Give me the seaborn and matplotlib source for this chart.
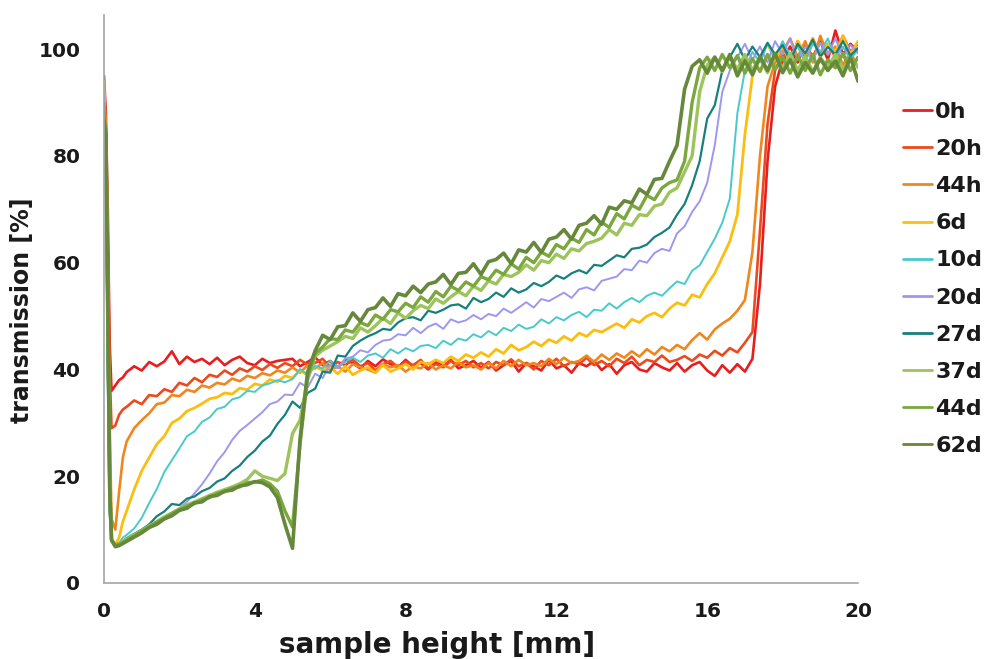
import numpy as np
import pandas as pd
import matplotlib
matplotlib.use("Agg")
import matplotlib.pyplot as plt
from matplotlib.lines import Line2D
import seaborn as sns

# ---------------- data ----------------
X_HEAD = [0.0, 0.05, 0.1, 0.15, 0.2, 0.3, 0.4, 0.5]
X_BODY = list(np.round(np.arange(0.6, 20.001, 0.2), 2))   # 0.6 ... 20.0
X = X_HEAD + X_BODY

LABELS = ["0h", "20h", "44h", "6d", "10d", "20d", "27d", "37d", "44d", "62d"]

T_0H = [95, 88, 70, 45, 36, 37, 38, 38.5,
        39.5, 40.6, 39.8, 41.4, 40.6, 41.5, 43.4, 41.0, 42.4, 41.4, 42.0, 41.0, 42.2, 40.8, 41.8, 42.4, 41.2, 40.8, 42.0, 41.2, 41.6, 41.8,
        42.0, 40.6, 41.4, 42.3, 40.8, 41.6, 40.4, 41.8, 41.2, 40.2, 41.6, 40.6, 41.9, 41.0, 40.4, 41.8, 40.6, 41.2, 40.0, 41.4, 40.9, 41.8, 40.2, 40.8, 41.6, 40.3,
        41.4, 39.8, 40.8, 41.6, 39.6, 41.2, 40.6, 39.8, 41.8, 40.2, 40.8, 39.4, 41.2, 40.6, 41.6, 39.9, 41.0, 39.2, 40.8, 41.4, 40.0, 39.6, 41.2, 40.4, 39.8,
        41.2, 39.6, 40.8, 41.4, 39.8, 38.8, 40.8, 39.4, 41.0, 39.6, 42.0, 56, 79, 93, 98, 100.5, 97.5, 101, 98.5, 101.5, 98, 103.5, 99, 101, 99.5]

T_20H = [93, 85, 65, 40, 29, 29.5, 31.5, 32.5,
         33.0, 34.2, 33.5, 35.2, 35.0, 36.3, 35.8, 37.5, 37.0, 38.4, 37.6, 39.0, 38.6, 39.8, 39.0, 40.2, 39.6, 40.6, 39.9, 41.0, 40.3, 41.2,
         40.6, 41.8, 40.9, 41.2, 42.0, 40.4, 41.4, 40.8, 41.8, 40.6, 41.2, 39.8, 41.0, 41.6, 40.4, 41.4, 40.8, 41.8, 40.2, 41.0, 40.4, 41.6, 40.8, 41.6, 40.4, 41.2,
         40.2, 41.4, 40.8, 41.9, 40.6, 41.2, 40.0, 41.6, 40.8, 42.0, 40.6, 41.4, 41.0, 42.2, 40.8, 41.6, 40.6, 42.0, 41.2, 42.4, 40.8, 41.8, 41.4, 42.6, 41.4,
         41.8, 42.5, 41.6, 42.8, 42.2, 43.5, 42.6, 44.0, 43.2, 45.0, 47.0, 66, 86, 96, 99, 97.5, 101.5, 98.5, 102, 99, 101, 98.5, 102.5, 99.5, 101]

T_44H = [92, 84, 60, 30, 12, 10, 17, 23.5,
         26.5, 29.0, 30.5, 31.8, 33.5, 33.8, 35.2, 35.0, 36.2, 35.8, 37.0, 36.6, 37.5, 37.2, 38.3, 37.8, 38.8, 38.4, 39.3, 38.9, 39.8, 39.4,
         40.4, 39.4, 40.8, 40.2, 41.2, 39.8, 40.6, 39.6, 41.0, 40.4, 40.0, 39.4, 41.0, 40.4, 40.8, 39.6, 40.6, 40.2, 41.2, 40.0, 40.8, 40.2, 41.4, 40.4, 40.8, 40.0,
         41.2, 40.2, 41.6, 40.6, 41.8, 40.8, 41.2, 40.6, 42.0, 41.0, 42.2, 41.2, 41.6, 42.6, 41.4, 42.8, 41.8, 43.0, 42.2, 43.4, 42.4, 43.8, 42.8, 44.2, 43.4,
         44.6, 43.8, 45.5, 46.8, 45.6, 47.5, 48.6, 49.5, 51.0, 53.0, 62, 80, 93, 97.5, 99.5, 102, 98.5, 101.5, 97.5, 102.5, 99, 100.5, 97, 99.5, 96.5]

T_6D = [94, 80, 45, 15, 8, 7.2, 8.5, 11.5,
        13.5, 17.5, 21.0, 23.5, 26.0, 27.5, 30.0, 30.8, 32.2, 32.8, 33.6, 34.5, 34.8, 35.6, 35.4, 36.5, 36.2, 37.3, 37.0, 38.1, 37.7, 38.8,
        38.4, 39.8, 39.0, 40.6, 39.8, 40.4, 39.2, 40.6, 39.0, 39.8, 40.4, 39.4, 40.8, 39.6, 40.2, 41.0, 40.0, 41.4, 41.0, 41.8, 41.2, 42.4, 41.6, 42.8, 42.2, 43.2,
        42.4, 43.8, 43.0, 44.6, 43.6, 44.2, 45.2, 44.4, 45.6, 45.0, 46.2, 45.4, 46.8, 46.2, 47.4, 47.0, 47.8, 48.6, 47.8, 49.4, 48.8, 50.0, 50.6, 49.8, 51.4,
        52.5, 52.0, 54.0, 53.5, 56.0, 58.0, 61.0, 64.0, 69.0, 84, 95, 98.5, 101, 98, 100.5, 97.5, 101.5, 99, 102, 98.5, 101, 99.5, 102.5, 99, 101.5]

T_10D = [92, 75, 40, 14, 8, 7.2, 7.5, 8.5,
         9.0, 10.2, 12.2, 15.0, 17.6, 20.8, 23.0, 25.2, 27.5, 28.4, 30.2, 31.0, 32.6, 33.0, 34.4, 34.8, 36.0, 35.8, 37.0, 37.4, 38.0, 37.6,
         38.2, 40.1, 39.0, 40.6, 40.2, 41.6, 40.6, 41.4, 42.2, 41.4, 42.6, 43.0, 42.2, 43.8, 43.0, 44.0, 43.4, 44.4, 44.6, 44.0, 45.4, 44.6, 45.8, 45.4, 46.6, 46.0,
         47.2, 46.4, 47.8, 47.2, 48.4, 47.6, 48.0, 49.4, 48.6, 49.8, 49.2, 50.2, 50.8, 49.8, 51.2, 51.0, 52.4, 51.4, 52.6, 53.4, 52.6, 53.8, 54.4, 53.8, 55.2,
         56.5, 56.0, 58.5, 59.5, 62.0, 64.5, 67.5, 72, 88, 96, 99.5, 97.5, 101, 98.5, 101.5, 99, 100.5, 97.5, 101, 99.5, 102, 98.5, 100.5, 98, 100]

T_20D = [92, 75, 40, 14, 8, 7.2, 7.4, 7.8,
         8.2, 9.0, 9.8, 10.6, 11.5, 12.3, 13.2, 14.0, 15.2, 16.8, 18.5, 20.5, 22.8, 24.5, 26.8, 28.5, 29.6, 30.8, 32.0, 33.5, 34.0, 35.3,
         35.2, 37.5, 36.6, 39.2, 38.4, 41.0, 40.2, 42.0, 42.4, 43.6, 43.2, 44.6, 45.4, 45.6, 46.6, 46.4, 47.8, 46.8, 48.0, 48.6, 47.6, 49.4, 48.8, 49.2, 50.2, 49.4,
         50.4, 50.0, 51.4, 50.6, 51.6, 52.6, 51.6, 53.2, 52.8, 53.6, 54.4, 53.4, 55.0, 55.4, 54.8, 56.6, 57.0, 57.4, 58.8, 58.6, 60.4, 60.0, 61.8, 62.6, 62.2,
         65.5, 66.8, 69.5, 71.5, 75.0, 82, 92, 96, 98.5, 101, 98, 100.5, 97.5, 101.5, 99, 102, 98, 100.5, 97.8, 101.2, 99, 102, 98.5, 100.8, 99.2]

T_27D = [90, 72, 38, 13, 8, 7.2, 7.4, 7.8,
         8.4, 9.2, 10.0, 11.0, 12.5, 13.4, 14.8, 14.6, 15.8, 16.2, 17.2, 17.8, 19.0, 19.6, 21.0, 22.0, 23.6, 24.8, 26.5, 27.6, 29.8, 31.5,
         34.0, 32.8, 35.6, 36.4, 39.6, 39.4, 42.6, 42.4, 44.4, 45.4, 46.2, 46.8, 47.6, 47.4, 48.8, 49.6, 49.8, 49.2, 51.0, 50.6, 51.2, 52.0, 52.2, 51.4, 53.4, 52.6,
         53.2, 54.4, 53.6, 55.2, 54.4, 55.0, 56.2, 55.6, 56.4, 57.6, 57.0, 58.0, 58.6, 58.0, 59.6, 59.4, 60.4, 61.4, 61.0, 62.6, 62.8, 63.4, 64.8, 65.6, 66.6,
         69.0, 71.0, 74.5, 79, 87, 89.5, 96, 98.5, 101, 98, 100.5, 98.5, 101.2, 99, 100.8, 97.8, 101, 99.2, 101.8, 98.6, 100.4, 99, 101.5, 98.8, 100.2]

T_37D = [86, 83, 54, 18, 8.0, 7.0, 7.3, 7.8,
         8.2, 9.0, 9.8, 10.7, 11.5, 12.4, 13.1, 13.9, 14.6, 15.2, 15.8, 16.4, 17.0, 17.5, 18.0, 18.6, 19.4, 21.0, 20.0, 19.6, 19.2, 20.5,
         28.0, 30.5, 38.0, 42.5, 43.6, 44.4, 45.2, 46.2, 45.8, 47.8, 47.0, 48.2, 49.6, 48.6, 50.6, 49.6, 51.0, 52.0, 51.4, 53.2, 52.4, 53.6, 54.6, 53.8, 55.6, 54.8,
         56.6, 56.0, 57.8, 57.4, 58.2, 59.6, 58.6, 60.4, 60.0, 61.6, 60.8, 62.6, 62.2, 63.6, 64.0, 64.6, 66.2, 65.2, 67.4, 67.0, 69.0, 68.8, 70.6, 71.0, 73.2,
         74.0, 77.0, 80.0, 92.0, 97.0, 98.5, 95.8, 98.6, 96.2, 99.0, 96.0, 98.4, 95.6, 98.8, 96.4, 99.2, 96.0, 98.6, 95.8, 98.4, 96.6, 99.0, 96.2, 98.0, 96.8]

T_44D = [87, 84, 56, 19, 8.2, 7.0, 7.2, 7.6,
         8.0, 8.8, 9.7, 10.5, 11.4, 12.1, 13.0, 13.7, 14.4, 14.9, 15.6, 16.0, 16.8, 17.1, 17.8, 18.0, 18.8, 18.9, 19.3, 18.6, 17.2, 13.5,
         10.5, 26.0, 38.5, 43.0, 44.2, 45.8, 45.6, 47.4, 47.0, 48.8, 48.2, 50.2, 49.4, 51.2, 50.8, 52.4, 51.6, 53.6, 52.6, 54.6, 53.6, 55.6, 54.8, 56.4, 55.6, 57.4,
         56.8, 58.6, 57.8, 59.8, 58.8, 61.0, 60.0, 62.0, 61.2, 63.4, 62.6, 64.6, 63.8, 66.2, 65.2, 67.6, 66.6, 69.2, 68.2, 70.8, 70.0, 72.6, 71.8, 74.0, 75.0,
         75.5, 79.0, 90.0, 96.5, 98.5, 96.0, 99.0, 96.5, 98.8, 95.5, 98.2, 95.8, 99.0, 96.2, 98.5, 95.5, 98.8, 96.0, 99.0, 95.2, 98.0, 96.5, 99.2, 96.0, 98.5]

T_62D = [87, 84, 55, 18, 8, 6.8, 7.0, 7.4,
         7.8, 8.6, 9.4, 10.4, 11.0, 12.0, 12.6, 13.6, 14.0, 15.0, 15.2, 16.2, 16.4, 17.2, 17.4, 18.2, 18.4, 19.0, 18.8, 18.0, 16.0, 11.0,
         6.5, 27.0, 39.5, 43.5, 46.4, 45.6, 48.0, 48.2, 50.6, 49.0, 51.2, 51.6, 53.4, 51.8, 54.2, 53.8, 55.6, 54.4, 56.0, 56.4, 57.8, 55.9, 58.0, 58.2, 59.8, 57.8,
         60.2, 60.6, 61.8, 59.8, 62.4, 62.0, 63.8, 61.9, 64.4, 64.8, 66.2, 64.4, 67.0, 67.4, 68.8, 67.2, 70.4, 70.0, 71.6, 71.2, 73.8, 72.8, 75.6, 75.8, 79.0,
         82.0, 92.5, 96.8, 98.0, 95.5, 98.5, 96.0, 99.0, 95.0, 97.8, 95.2, 98.6, 96.0, 99.2, 95.6, 98.0, 94.8, 97.5, 95.5, 98.2, 96.0, 97.8, 95.0, 98.5, 94.0]

SERIES = [T_0H, T_20H, T_44H, T_6D, T_10D, T_20D, T_27D, T_37D, T_44D, T_62D]

# ---------------- styling ----------------
COLORS = ["#E81E1E", "#EC4A1E", "#F0861E", "#FBBE10", "#48CACC",
          "#9D97F2", "#16807E", "#9DC45C", "#7AA83E", "#66883A"]
WIDTHS = [1.9, 1.9, 1.9, 2.0, 1.4, 1.4, 1.6, 2.4, 2.4, 2.6]

sns.set_style("white")
plt.rcParams["font.family"] = ["DejaVu Sans"]

fig = plt.figure(figsize=(9.84, 6.59), dpi=100)
W, H = 984.0, 659.0
ax = fig.add_axes([104 / W, 1 - 583 / H, (858 - 104) / W, (583 - 15) / H])

for lab, vals, col, lw in zip(LABELS, SERIES, COLORS, WIDTHS):
    if len(vals) != len(X):
        raise ValueError(f"{lab}: {len(vals)} values vs {len(X)} x")
    df = pd.DataFrame({"x": X, "y": vals})
    sns.lineplot(data=df, x="x", y="y", ax=ax, color=col, linewidth=lw,
                 estimator=None, sort=False, legend=False)

ax.set_xlim(0, 20)
ax.set_ylim(0, 106.4)
ax.set_xticks([0, 4, 8, 12, 16, 20])
ax.set_yticks([0, 20, 40, 60, 80, 100])
ax.set_xlabel("")
ax.set_ylabel("")

for s in ["top", "right"]:
    ax.spines[s].set_visible(False)
for s in ["left", "bottom"]:
    ax.spines[s].set_color("#A6A6A6")
    ax.spines[s].set_linewidth(1.2)

ax.tick_params(axis="both", which="major", direction="out", length=7, width=1.2,
               color="#A6A6A6", labelsize=14.5, labelcolor="#1a1a1a")
ax.tick_params(axis="y", pad=10)
ax.tick_params(axis="x", pad=7)
for t in ax.get_xticklabels() + ax.get_yticklabels():
    t.set_fontweight("bold")

fig.text(437 / W, 1 - 645 / H, "sample height [mm]", ha="center", va="center",
         fontsize=20, fontweight="bold", color="#1a1a1a")
fig.text(22 / W, 1 - 310 / H, "transmission [%]", ha="center", va="center",
         rotation=90, fontsize=17, fontweight="bold", color="#1a1a1a")

handles = [Line2D([0], [0], color=c, lw=2.0) for c in COLORS]
leg = ax.legend(handles, LABELS, loc="upper left", bbox_to_anchor=(903 / W, 1 - 102 / H),
                bbox_transform=fig.transFigure, frameon=False, fontsize=16,
                handlelength=1.3, handletextpad=0.15, labelspacing=0.77,
                borderpad=0, borderaxespad=0)
for t in leg.get_texts():
    t.set_fontweight("bold")
    t.set_color("#1a1a1a")

fig.savefig("out.png", dpi=100)
